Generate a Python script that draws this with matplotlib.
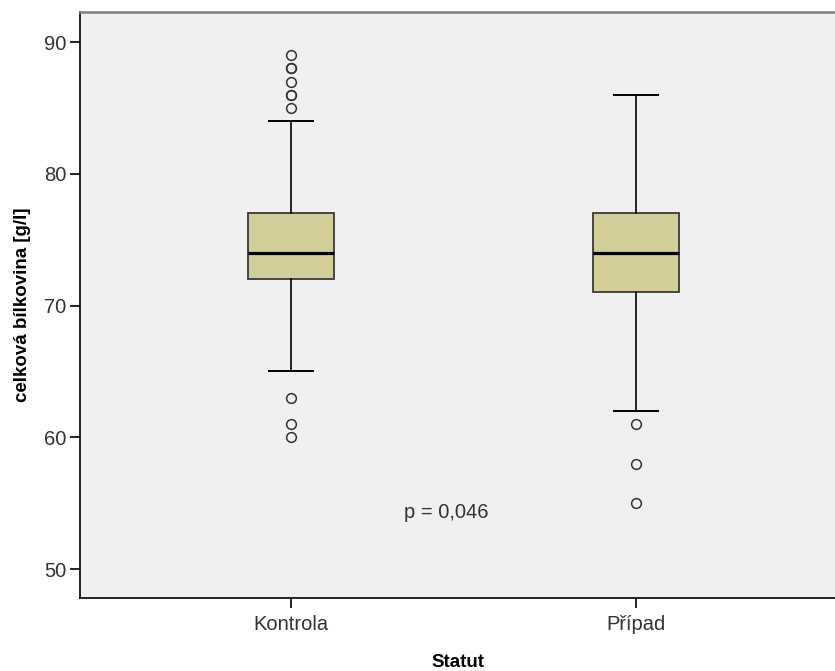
import matplotlib.pyplot as plt

plt.rcParams['font.family'] = ['Liberation Sans', 'DejaVu Sans']

# data
groups = ['Kontrola', 'Případ']
q1 = [72, 71]
median = [74, 74]
q3 = [77, 77]
whisker_low = [65, 62]
whisker_high = [84, 86]
outliers_kontrola = [60, 61, 63, 85, 86, 86, 87, 88, 88, 89]
outliers_pripad = [55, 58, 61]
p_text = 'p = 0,046'

stats = []
for i, name in enumerate(groups):
    stats.append({
        'label': name,
        'q1': q1[i], 'med': median[i], 'q3': q3[i],
        'whislo': whisker_low[i], 'whishi': whisker_high[i],
        'fliers': [outliers_kontrola, outliers_pripad][i],
    })

fig = plt.figure(figsize=(8.35, 6.71), dpi=100)
ax = fig.add_axes([0.0958, 0.1088, 0.9042, 0.8733])
ax.set_facecolor('#f0f0f0')

ax.bxp(stats, positions=[1, 2], widths=0.25, capwidths=0.127,
       patch_artist=True,
       boxprops=dict(facecolor='#d3ce98', edgecolor='#3a3a3a', linewidth=1.3),
       medianprops=dict(color='black', linewidth=2.3),
       whiskerprops=dict(color='black', linewidth=1.2),
       capprops=dict(color='black', linewidth=1.4),
       flierprops=dict(marker='o', markersize=7, markerfacecolor='none',
                       markeredgecolor='#333333', markeredgewidth=1.1))

ax.set_xlim(0.388, 2.577)
ax.set_ylim(47.8, 92.28)
ax.set_yticks([50, 60, 70, 80, 90])
ax.set_xticks([1, 2])
ax.set_xticklabels(groups)

ax.tick_params(axis='both', direction='out', length=7, width=1.2,
               labelsize=14.5, labelcolor='#333333', pad=3)
ax.tick_params(axis='x', pad=5)

ax.spines['right'].set_visible(False)
ax.spines['top'].set_color('#808080')
ax.spines['top'].set_linewidth(1.8)
ax.spines['left'].set_linewidth(1.2)
ax.spines['bottom'].set_linewidth(1.2)

ax.text(1.45, 54.3, p_text, fontsize=14.5, color='#333333',
        ha='center', va='center')

ax.set_ylabel('celková bílkovina [g/l]', fontsize=13.5, fontweight='bold', labelpad=9)
ax.set_xlabel('Statut', fontsize=13.5, fontweight='bold', labelpad=15)

fig.savefig('out.png', dpi=100)
